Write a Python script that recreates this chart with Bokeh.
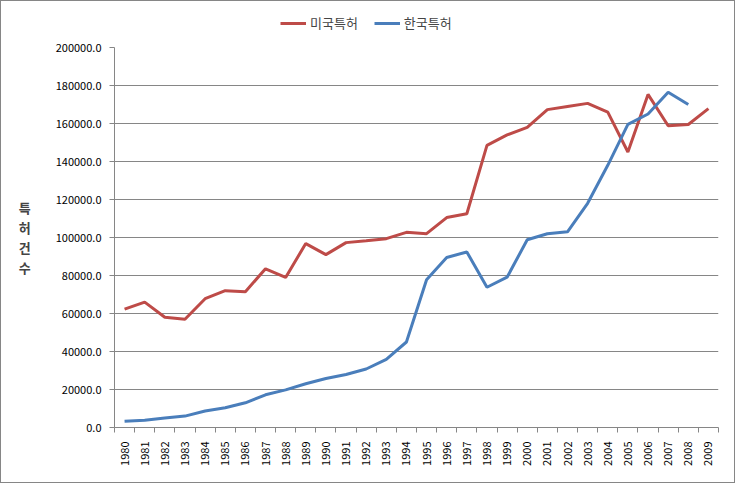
import math
from bokeh.plotting import figure
from bokeh.layouts import column
from bokeh.models import (FixedTicker, NumeralTickFormatter, Legend, LegendItem, Range1d)
from bokeh.embed import file_html
from bokeh.resources import INLINE

years = list(range(1980, 2010))
us_patents = [62300, 66000, 58000, 57000, 67800, 72000, 71500, 83500, 79000, 96800,
              91000, 97300, 98300, 99400, 102700, 102000, 110500, 112500, 148500, 154000,
              158000, 167300, 169000, 170600, 166000, 145000, 175300, 158800, 159500, 167800]
kr_years = list(range(1980, 2009))
kr_patents = [3300, 3800, 5000, 6000, 8700, 10400, 13000, 17200, 19800, 23000,
              25800, 27900, 30800, 35900, 45000, 77800, 89500, 92400, 73800, 79100,
              98800, 102000, 103000, 118000, 138000, 159500, 165000, 176400, 170000]
y_ticks = list(range(0, 200001, 20000))
series_names = ["미국특허", "한국특허"]
colors = ["#BE4B48", "#4A7EBB"]

FONT = "Noto Sans CJK KR"
GRID = "#868686"
NAN = float("nan")

# ---- legend strip (proxy lines hold no drawable points) ----
lf = figure(width=733, height=38, output_backend="svg", toolbar_location=None,
            x_range=Range1d(0, 1), y_range=Range1d(0, 1), x_axis_type=None, y_axis_type=None,
            min_border=0)
lf.outline_line_color = None
lf.xgrid.grid_line_color = None
lf.ygrid.grid_line_color = None
lr_us = lf.line([NAN], [NAN], line_color=colors[0], line_width=3)
lr_kr = lf.line([NAN], [NAN], line_color=colors[1], line_width=3)
legend = Legend(items=[LegendItem(label=series_names[0], renderers=[lr_us]),
                       LegendItem(label=series_names[1], renderers=[lr_kr])],
                orientation="horizontal", location=(166, 7),
                label_text_font=FONT, label_text_font_size="13px",
                glyph_width=26, glyph_height=16, label_height=16, label_standoff=4,
                spacing=16, padding=0, margin=0, border_line_color=None,
                background_fill_alpha=0)
lf.add_layout(legend, "center")

# ---- main chart ----
p = figure(width=733, height=443, output_backend="svg", toolbar_location=None,
           x_range=Range1d(years[0] - 0.5, years[-1] + 0.5), y_range=Range1d(0, 200000),
           min_border_left=113, min_border_right=16, min_border_top=8, min_border_bottom=55)
p.outline_line_color = None

p.line(years, us_patents, line_color=colors[0], line_width=3)
p.line(kr_years, kr_patents, line_color=colors[1], line_width=3)

xa = p.xaxis[0]
xa.ticker = FixedTicker(ticks=years, minor_ticks=[y - 0.5 for y in years] + [years[-1] + 0.5])
xa.major_tick_out = 0
xa.major_tick_in = 0
xa.minor_tick_out = 5
xa.minor_tick_in = 0
xa.minor_tick_line_color = GRID
xa.axis_line_color = GRID
xa.major_label_orientation = math.pi / 2
xa.major_label_text_font = FONT
xa.major_label_text_font_size = "11px"
xa.major_label_text_color = "black"
xa.major_label_standoff = 9
p.xgrid.grid_line_color = None

ya = p.yaxis[0]
ya.ticker = FixedTicker(ticks=y_ticks)
ya.formatter = NumeralTickFormatter(format="0.0")
ya.major_tick_out = 5
ya.major_tick_in = 0
ya.minor_tick_out = 0
ya.minor_tick_in = 0
ya.major_tick_line_color = GRID
ya.axis_line_color = GRID
ya.major_label_text_font = FONT
ya.major_label_text_font_size = "11px"
ya.major_label_text_color = "black"
ya.major_label_standoff = 8
ya.axis_label = "특\n허\n건\n수"
ya.axis_label_orientation = "horizontal"
ya.axis_label_text_font = FONT
ya.axis_label_text_font_size = "13px"
ya.axis_label_text_font_style = "bold"
ya.axis_label_text_line_height = 1.05
ya.axis_label_standoff = 22
p.ygrid.grid_line_color = GRID
p.ygrid.grid_line_width = 1

layout = column(lf, p, spacing=0)
layout.styles = {"border": "1px solid #868686"}

open("out.html", "w").write(file_html(layout, INLINE))
